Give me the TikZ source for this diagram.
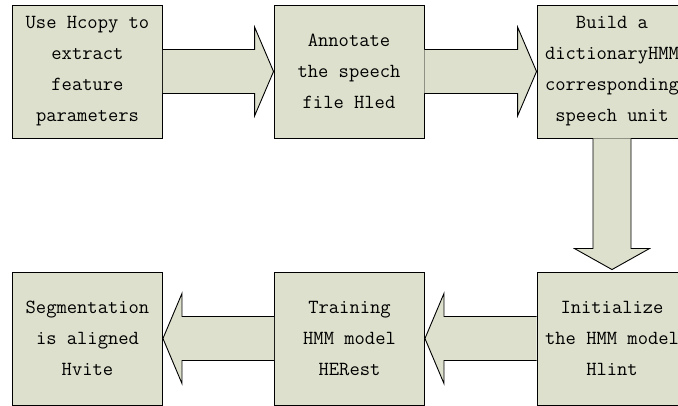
\documentclass[tikz,border=0pt]{standalone}
\usepackage{fontspec}
\usetikzlibrary{calc}
\definecolor{boxfill}{RGB}{221,224,204}
\begin{document}
\begin{tikzpicture}[x=1pt,y=1pt,
  stepbox/.style={draw=black, line width=0.9pt, fill=boxfill, minimum width=150pt, minimum height=133pt,
    inner sep=0pt, align=center, font=\ttfamily\fontsize{20}{31}\selectfont},
  blockarrow/.style={draw=black, line width=0.9pt, fill=boxfill, line join=miter}]
\useasboundingbox (0,0) rectangle (678,-406);
\node[stepbox] (b1) at (87.5,-71.5) {Use Hcopy to\\extract\\feature\\parameters};
\node[stepbox] (b2) at (349,-71.5) {Annotate\\the speech\\file Hled};
\node[stepbox] (b3) at (612,-71.5) {Build a\\dictionaryHMM\\corresponding\\speech unit};
\node[stepbox] (b4) at (612,-338.5) {Initialize\\the HMM model\\Hlint};
\node[stepbox] (b5) at (349.5,-338.5) {Training\\HMM model\\HERest};
\node[stepbox] (b6) at (87.5,-338.5) {Segmentation\\is aligned\\Hvite};
% right arrows
\draw[blockarrow] ($(b1.east)+(0,22)$) -- ($(b2.west)+(-19,22)$) -- ($(b2.west)+(-19,44.5)$) -- (b2.west)
  -- ($(b2.west)+(-19,-44.5)$) -- ($(b2.west)+(-19,-22)$) -- ($(b1.east)+(0,-22)$);
\draw[blockarrow] ($(b2.east)+(0,22)$) -- ($(b3.west)+(-19,22)$) -- ($(b3.west)+(-19,44.5)$) -- (b3.west)
  -- ($(b3.west)+(-19,-44.5)$) -- ($(b3.west)+(-19,-22)$) -- ($(b2.east)+(0,-22)$);
% down arrow
\coordinate (dtip) at ($(b4.north)+(0,2)$);
\draw[blockarrow] ($(b3.south)+(-19,0)$) -- ($(dtip)+(-19,21)$) -- ($(dtip)+(-37.5,21)$) -- (dtip)
  -- ($(dtip)+(37.5,21)$) -- ($(dtip)+(19,21)$) -- ($(b3.south)+(19,0)$);
% left arrows
\draw[blockarrow] ($(b4.west)+(0,22)$) -- ($(b5.east)+(19,22)$) -- ($(b5.east)+(19,45)$) -- (b5.east)
  -- ($(b5.east)+(19,-45)$) -- ($(b5.east)+(19,-22)$) -- ($(b4.west)+(0,-22)$);
\draw[blockarrow] ($(b5.west)+(0,22)$) -- ($(b6.east)+(19,22)$) -- ($(b6.east)+(19,45)$) -- (b6.east)
  -- ($(b6.east)+(19,-45)$) -- ($(b6.east)+(19,-22)$) -- ($(b5.west)+(0,-22)$);
\end{tikzpicture}
\end{document}
